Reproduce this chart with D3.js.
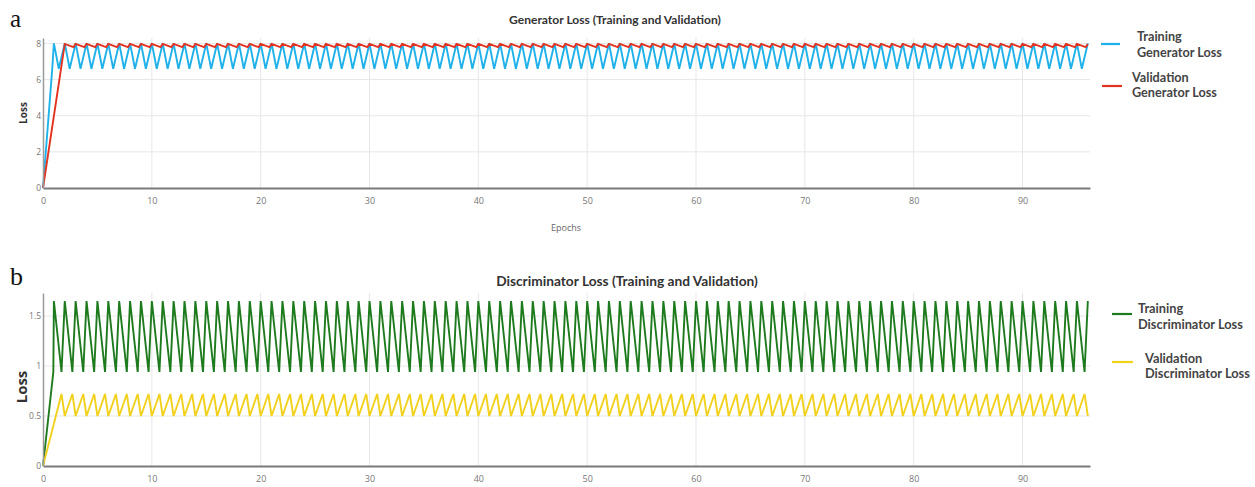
<!DOCTYPE html>
<html>
<head>
<meta charset="utf-8">
<script src="https://cdn.jsdelivr.net/npm/d3@7"></script>
<style>
  body { margin: 0; background: #fff; }
  svg { display: block; }
</style>
</head>
<body>
<svg id="chart" width="1255" height="487"></svg>
<script>
/* global d3 */

// tick values
const epochTicks = [0, 10, 20, 30, 40, 50, 60, 70, 80, 90];
const genTicks = [0, 2, 4, 6, 8];
const discTicks = [0, 0.5, 1, 1.5];

// [epoch, loss]
const genTrain = [[0,0],[0.85,6.6],[1,8],
  [1.45,6.6],[2,8],[2.45,6.6],[3,8],[3.45,6.6],[4,8],[4.45,6.6],[5,8],[5.45,6.6],[6,8],[6.45,6.6],[7,8],[7.45,6.6],[8,8],[8.45,6.6],[9,8],[9.45,6.6],[10,8],
  [10.45,6.6],[11,8],[11.45,6.6],[12,8],[12.45,6.6],[13,8],[13.45,6.6],[14,8],[14.45,6.6],[15,8],[15.45,6.6],[16,8],[16.45,6.6],[17,8],[17.45,6.6],[18,8],[18.45,6.6],[19,8],[19.45,6.6],[20,8],
  [20.45,6.6],[21,8],[21.45,6.6],[22,8],[22.45,6.6],[23,8],[23.45,6.6],[24,8],[24.45,6.6],[25,8],[25.45,6.6],[26,8],[26.45,6.6],[27,8],[27.45,6.6],[28,8],[28.45,6.6],[29,8],[29.45,6.6],[30,8],
  [30.45,6.6],[31,8],[31.45,6.6],[32,8],[32.45,6.6],[33,8],[33.45,6.6],[34,8],[34.45,6.6],[35,8],[35.45,6.6],[36,8],[36.45,6.6],[37,8],[37.45,6.6],[38,8],[38.45,6.6],[39,8],[39.45,6.6],[40,8],
  [40.45,6.6],[41,8],[41.45,6.6],[42,8],[42.45,6.6],[43,8],[43.45,6.6],[44,8],[44.45,6.6],[45,8],[45.45,6.6],[46,8],[46.45,6.6],[47,8],[47.45,6.6],[48,8],[48.45,6.6],[49,8],[49.45,6.6],[50,8],
  [50.45,6.6],[51,8],[51.45,6.6],[52,8],[52.45,6.6],[53,8],[53.45,6.6],[54,8],[54.45,6.6],[55,8],[55.45,6.6],[56,8],[56.45,6.6],[57,8],[57.45,6.6],[58,8],[58.45,6.6],[59,8],[59.45,6.6],[60,8],
  [60.45,6.6],[61,8],[61.45,6.6],[62,8],[62.45,6.6],[63,8],[63.45,6.6],[64,8],[64.45,6.6],[65,8],[65.45,6.6],[66,8],[66.45,6.6],[67,8],[67.45,6.6],[68,8],[68.45,6.6],[69,8],[69.45,6.6],[70,8],
  [70.45,6.6],[71,8],[71.45,6.6],[72,8],[72.45,6.6],[73,8],[73.45,6.6],[74,8],[74.45,6.6],[75,8],[75.45,6.6],[76,8],[76.45,6.6],[77,8],[77.45,6.6],[78,8],[78.45,6.6],[79,8],[79.45,6.6],[80,8],
  [80.45,6.6],[81,8],[81.45,6.6],[82,8],[82.45,6.6],[83,8],[83.45,6.6],[84,8],[84.45,6.6],[85,8],[85.45,6.6],[86,8],[86.45,6.6],[87,8],[87.45,6.6],[88,8],[88.45,6.6],[89,8],[89.45,6.6],[90,8],
  [90.45,6.6],[91,8],[91.45,6.6],[92,8],[92.45,6.6],[93,8],[93.45,6.6],[94,8],[94.45,6.6],[95,8],[95.45,6.6],[96,8]];

const genVal = [[0,0],[2,7.97],
  [2.8,7.8],[3,7.97],[3.8,7.8],[4,7.97],[4.8,7.8],[5,7.97],[5.8,7.8],[6,7.97],[6.8,7.8],[7,7.97],[7.8,7.8],[8,7.97],[8.8,7.8],[9,7.97],[9.8,7.8],[10,7.97],
  [10.8,7.8],[11,7.97],[11.8,7.8],[12,7.97],[12.8,7.8],[13,7.97],[13.8,7.8],[14,7.97],[14.8,7.8],[15,7.97],[15.8,7.8],[16,7.97],[16.8,7.8],[17,7.97],[17.8,7.8],[18,7.97],[18.8,7.8],[19,7.97],[19.8,7.8],[20,7.97],
  [20.8,7.8],[21,7.97],[21.8,7.8],[22,7.97],[22.8,7.8],[23,7.97],[23.8,7.8],[24,7.97],[24.8,7.8],[25,7.97],[25.8,7.8],[26,7.97],[26.8,7.8],[27,7.97],[27.8,7.8],[28,7.97],[28.8,7.8],[29,7.97],[29.8,7.8],[30,7.97],
  [30.8,7.8],[31,7.97],[31.8,7.8],[32,7.97],[32.8,7.8],[33,7.97],[33.8,7.8],[34,7.97],[34.8,7.8],[35,7.97],[35.8,7.8],[36,7.97],[36.8,7.8],[37,7.97],[37.8,7.8],[38,7.97],[38.8,7.8],[39,7.97],[39.8,7.8],[40,7.97],
  [40.8,7.8],[41,7.97],[41.8,7.8],[42,7.97],[42.8,7.8],[43,7.97],[43.8,7.8],[44,7.97],[44.8,7.8],[45,7.97],[45.8,7.8],[46,7.97],[46.8,7.8],[47,7.97],[47.8,7.8],[48,7.97],[48.8,7.8],[49,7.97],[49.8,7.8],[50,7.97],
  [50.8,7.8],[51,7.97],[51.8,7.8],[52,7.97],[52.8,7.8],[53,7.97],[53.8,7.8],[54,7.97],[54.8,7.8],[55,7.97],[55.8,7.8],[56,7.97],[56.8,7.8],[57,7.97],[57.8,7.8],[58,7.97],[58.8,7.8],[59,7.97],[59.8,7.8],[60,7.97],
  [60.8,7.8],[61,7.97],[61.8,7.8],[62,7.97],[62.8,7.8],[63,7.97],[63.8,7.8],[64,7.97],[64.8,7.8],[65,7.97],[65.8,7.8],[66,7.97],[66.8,7.8],[67,7.97],[67.8,7.8],[68,7.97],[68.8,7.8],[69,7.97],[69.8,7.8],[70,7.97],
  [70.8,7.8],[71,7.97],[71.8,7.8],[72,7.97],[72.8,7.8],[73,7.97],[73.8,7.8],[74,7.97],[74.8,7.8],[75,7.97],[75.8,7.8],[76,7.97],[76.8,7.8],[77,7.97],[77.8,7.8],[78,7.97],[78.8,7.8],[79,7.97],[79.8,7.8],[80,7.97],
  [80.8,7.8],[81,7.97],[81.8,7.8],[82,7.97],[82.8,7.8],[83,7.97],[83.8,7.8],[84,7.97],[84.8,7.8],[85,7.97],[85.8,7.8],[86,7.97],[86.8,7.8],[87,7.97],[87.8,7.8],[88,7.97],[88.8,7.8],[89,7.97],[89.8,7.8],[90,7.97],
  [90.8,7.8],[91,7.97],[91.8,7.8],[92,7.97],[92.8,7.8],[93,7.97],[93.8,7.8],[94,7.97],[94.8,7.8],[95,7.97],[95.8,7.8],[96,7.97]];

const discTrain = [[0,0],[0.95,0.94],[1,1.65],
  [1.7,0.94],[2,1.65],[2.7,0.94],[3,1.65],[3.7,0.94],[4,1.65],[4.7,0.94],[5,1.65],[5.7,0.94],[6,1.65],[6.7,0.94],[7,1.65],[7.7,0.94],[8,1.65],[8.7,0.94],[9,1.65],[9.7,0.94],[10,1.65],
  [10.7,0.94],[11,1.65],[11.7,0.94],[12,1.65],[12.7,0.94],[13,1.65],[13.7,0.94],[14,1.65],[14.7,0.94],[15,1.65],[15.7,0.94],[16,1.65],[16.7,0.94],[17,1.65],[17.7,0.94],[18,1.65],[18.7,0.94],[19,1.65],[19.7,0.94],[20,1.65],
  [20.7,0.94],[21,1.65],[21.7,0.94],[22,1.65],[22.7,0.94],[23,1.65],[23.7,0.94],[24,1.65],[24.7,0.94],[25,1.65],[25.7,0.94],[26,1.65],[26.7,0.94],[27,1.65],[27.7,0.94],[28,1.65],[28.7,0.94],[29,1.65],[29.7,0.94],[30,1.65],
  [30.7,0.94],[31,1.65],[31.7,0.94],[32,1.65],[32.7,0.94],[33,1.65],[33.7,0.94],[34,1.65],[34.7,0.94],[35,1.65],[35.7,0.94],[36,1.65],[36.7,0.94],[37,1.65],[37.7,0.94],[38,1.65],[38.7,0.94],[39,1.65],[39.7,0.94],[40,1.65],
  [40.7,0.94],[41,1.65],[41.7,0.94],[42,1.65],[42.7,0.94],[43,1.65],[43.7,0.94],[44,1.65],[44.7,0.94],[45,1.65],[45.7,0.94],[46,1.65],[46.7,0.94],[47,1.65],[47.7,0.94],[48,1.65],[48.7,0.94],[49,1.65],[49.7,0.94],[50,1.65],
  [50.7,0.94],[51,1.65],[51.7,0.94],[52,1.65],[52.7,0.94],[53,1.65],[53.7,0.94],[54,1.65],[54.7,0.94],[55,1.65],[55.7,0.94],[56,1.65],[56.7,0.94],[57,1.65],[57.7,0.94],[58,1.65],[58.7,0.94],[59,1.65],[59.7,0.94],[60,1.65],
  [60.7,0.94],[61,1.65],[61.7,0.94],[62,1.65],[62.7,0.94],[63,1.65],[63.7,0.94],[64,1.65],[64.7,0.94],[65,1.65],[65.7,0.94],[66,1.65],[66.7,0.94],[67,1.65],[67.7,0.94],[68,1.65],[68.7,0.94],[69,1.65],[69.7,0.94],[70,1.65],
  [70.7,0.94],[71,1.65],[71.7,0.94],[72,1.65],[72.7,0.94],[73,1.65],[73.7,0.94],[74,1.65],[74.7,0.94],[75,1.65],[75.7,0.94],[76,1.65],[76.7,0.94],[77,1.65],[77.7,0.94],[78,1.65],[78.7,0.94],[79,1.65],[79.7,0.94],[80,1.65],
  [80.7,0.94],[81,1.65],[81.7,0.94],[82,1.65],[82.7,0.94],[83,1.65],[83.7,0.94],[84,1.65],[84.7,0.94],[85,1.65],[85.7,0.94],[86,1.65],[86.7,0.94],[87,1.65],[87.7,0.94],[88,1.65],[88.7,0.94],[89,1.65],[89.7,0.94],[90,1.65],
  [90.7,0.94],[91,1.65],[91.7,0.94],[92,1.65],[92.7,0.94],[93,1.65],[93.7,0.94],[94,1.65],[94.7,0.94],[95,1.65],[95.7,0.94],[96,1.65]];

const discVal = [[0,0],[1.7,0.72],[2,0.5],
  [2.7,0.72],[3,0.5],[3.7,0.72],[4,0.5],[4.7,0.72],[5,0.5],[5.7,0.72],[6,0.5],[6.7,0.72],[7,0.5],[7.7,0.72],[8,0.5],[8.7,0.72],[9,0.5],[9.7,0.72],[10,0.5],
  [10.7,0.72],[11,0.5],[11.7,0.72],[12,0.5],[12.7,0.72],[13,0.5],[13.7,0.72],[14,0.5],[14.7,0.72],[15,0.5],[15.7,0.72],[16,0.5],[16.7,0.72],[17,0.5],[17.7,0.72],[18,0.5],[18.7,0.72],[19,0.5],[19.7,0.72],[20,0.5],
  [20.7,0.72],[21,0.5],[21.7,0.72],[22,0.5],[22.7,0.72],[23,0.5],[23.7,0.72],[24,0.5],[24.7,0.72],[25,0.5],[25.7,0.72],[26,0.5],[26.7,0.72],[27,0.5],[27.7,0.72],[28,0.5],[28.7,0.72],[29,0.5],[29.7,0.72],[30,0.5],
  [30.7,0.72],[31,0.5],[31.7,0.72],[32,0.5],[32.7,0.72],[33,0.5],[33.7,0.72],[34,0.5],[34.7,0.72],[35,0.5],[35.7,0.72],[36,0.5],[36.7,0.72],[37,0.5],[37.7,0.72],[38,0.5],[38.7,0.72],[39,0.5],[39.7,0.72],[40,0.5],
  [40.7,0.72],[41,0.5],[41.7,0.72],[42,0.5],[42.7,0.72],[43,0.5],[43.7,0.72],[44,0.5],[44.7,0.72],[45,0.5],[45.7,0.72],[46,0.5],[46.7,0.72],[47,0.5],[47.7,0.72],[48,0.5],[48.7,0.72],[49,0.5],[49.7,0.72],[50,0.5],
  [50.7,0.72],[51,0.5],[51.7,0.72],[52,0.5],[52.7,0.72],[53,0.5],[53.7,0.72],[54,0.5],[54.7,0.72],[55,0.5],[55.7,0.72],[56,0.5],[56.7,0.72],[57,0.5],[57.7,0.72],[58,0.5],[58.7,0.72],[59,0.5],[59.7,0.72],[60,0.5],
  [60.7,0.72],[61,0.5],[61.7,0.72],[62,0.5],[62.7,0.72],[63,0.5],[63.7,0.72],[64,0.5],[64.7,0.72],[65,0.5],[65.7,0.72],[66,0.5],[66.7,0.72],[67,0.5],[67.7,0.72],[68,0.5],[68.7,0.72],[69,0.5],[69.7,0.72],[70,0.5],
  [70.7,0.72],[71,0.5],[71.7,0.72],[72,0.5],[72.7,0.72],[73,0.5],[73.7,0.72],[74,0.5],[74.7,0.72],[75,0.5],[75.7,0.72],[76,0.5],[76.7,0.72],[77,0.5],[77.7,0.72],[78,0.5],[78.7,0.72],[79,0.5],[79.7,0.72],[80,0.5],
  [80.7,0.72],[81,0.5],[81.7,0.72],[82,0.5],[82.7,0.72],[83,0.5],[83.7,0.72],[84,0.5],[84.7,0.72],[85,0.5],[85.7,0.72],[86,0.5],[86.7,0.72],[87,0.5],[87.7,0.72],[88,0.5],[88.7,0.72],[89,0.5],[89.7,0.72],[90,0.5],
  [90.7,0.72],[91,0.5],[91.7,0.72],[92,0.5],[92.7,0.72],[93,0.5],[93.7,0.72],[94,0.5],[94.7,0.72],[95,0.5],[95.7,0.72],[96,0.5]];

const svg = d3.select("#chart");

let x = d3.scaleLinear().domain([0, 96.2]).range([43, 1090]);

let panels = [
  {
    letter: "a", letterY: 27, letterSize: 25,
    title: "Generator Loss (Training and Validation)", titleX: 615, titleY: 24, titleW: 212,
    top: 38, bottom: 188, domain: [0, 8.3], ticks: genTicks,
    yLabelX: 27, yLabelY: 113, yLabelSize: 10,
    xLabel: "Epochs",
    series: [
      { data: genTrain, color: "#1fb1e9" },
      { data: genVal, color: "#e3321f" }
    ],
    legend: [
      { lines: ["Training", "Generator Loss"], color: "#1fb1e9", lx: [1101, 1120], ly: 44, tx: 1137, ty: [41, 57] },
      { lines: ["Validation", "Generator Loss"], color: "#e3321f", lx: [1102, 1122], ly: 86, tx: 1132, ty: [82, 97] }
    ],
    legendW: 85
  },
  {
    letter: "b", letterY: 285, letterSize: 26,
    title: "Discriminator Loss (Training and Validation)", titleX: 627, titleY: 286, titleW: 262,
    top: 293, bottom: 466, domain: [0, 1.73], ticks: discTicks,
    yLabelX: 27, yLabelY: 387, yLabelSize: 15,
    xLabel: null,
    series: [
      { data: discTrain, color: "#1d7a1d" },
      { data: discVal, color: "#f2d11c" }
    ],
    legend: [
      { lines: ["Training", "Discriminator Loss"], color: "#1d7a1d", lx: [1112, 1132], ly: 314, tx: 1138, ty: [313, 329] },
      { lines: ["Validation", "Discriminator Loss"], color: "#f2d11c", lx: [1112, 1133], ly: 362, tx: 1145, ty: [363, 378] }
    ],
    legendW: 105
  }
];

let fitWidth = (sel, target) => {
  let w = sel.node().getComputedTextLength();
  let fs = parseFloat(sel.attr("font-size"));
  return fs * target / w;
}

panels.forEach(p => {
  let y = d3.scaleLinear().domain(p.domain).range([p.bottom, p.top]);
  let g = svg.append("g");

  // panel letter
  g.append("text")
    .attr("x", 10).attr("y", p.letterY)
    .attr("font-family", "Liberation Serif, serif")
    .attr("font-size", p.letterSize)
    .attr("fill", "#111")
    .text(p.letter);

  // grid
  g.append("g").selectAll("line")
    .data(epochTicks.filter(t => t > 0))
    .enter().append("line")
    .attr("x1", d => x(d)).attr("x2", d => x(d))
    .attr("y1", p.top).attr("y2", p.bottom)
    .attr("stroke", "#e7e7e7").attr("stroke-width", 1);
  g.append("g").selectAll("line")
    .data(p.ticks.filter(t => t > 0))
    .enter().append("line")
    .attr("x1", x.range()[0]).attr("x2", x.range()[1])
    .attr("y1", d => y(d)).attr("y2", d => y(d))
    .attr("stroke", "#e7e7e7").attr("stroke-width", 1);

  // series
  let line = d3.line().x(d => x(d[0])).y(d => y(d[1]));
  p.series.forEach(s => {
    g.append("path")
      .datum(s.data)
      .attr("d", line)
      .attr("fill", "none")
      .attr("stroke", s.color)
      .attr("stroke-width", 1.9)
      .attr("stroke-linejoin", "miter");
  });

  // axes
  let xAxis = g.append("g")
    .attr("transform", `translate(0,${p.bottom})`)
    .call(d3.axisBottom(x).tickValues(epochTicks).tickSize(0).tickPadding(10));
  xAxis.select(".domain").attr("stroke", "#7a7a7a").attr("stroke-width", 2);
  xAxis.selectAll("text").attr("fill", "#777").attr("font-size", 9).attr("font-family", "Open Sans, sans-serif");

  let yAxis = g.append("g")
    .attr("transform", `translate(${x.range()[0]},0)`)
    .call(d3.axisLeft(y).tickValues(p.ticks).tickSize(0).tickPadding(2).tickFormat(d3.format("")));
  yAxis.select(".domain").attr("stroke", "#9a9a9a").attr("stroke-width", 1.5);
  yAxis.selectAll("text").attr("fill", "#777").attr("font-size", 8.5).attr("font-family", "Open Sans, sans-serif");

  // title
  let title = g.append("text")
    .attr("x", p.titleX).attr("y", p.titleY)
    .attr("text-anchor", "middle")
    .attr("font-family", "Lato, sans-serif")
    .attr("font-weight", "bold")
    .attr("font-size", 12)
    .attr("fill", "#333")
    .text(p.title);
  title.attr("font-size", fitWidth(title, p.titleW));

  // y label
  g.append("text")
    .attr("transform", `translate(${p.yLabelX},${p.yLabelY}) rotate(-90)`)
    .attr("text-anchor", "middle")
    .attr("font-family", "Open Sans, sans-serif")
    .attr("font-weight", "bold")
    .attr("font-size", p.yLabelSize)
    .attr("fill", "#333")
    .text("Loss");

  if (p.xLabel) {
    g.append("text")
      .attr("x", 566).attr("y", 231)
      .attr("text-anchor", "middle")
      .attr("font-family", "Open Sans, sans-serif")
      .attr("font-size", 9)
      .attr("fill", "#666")
      .text(p.xLabel);
  }

  // legend
  let legendSize = null;
  p.legend.forEach(l => {
    g.append("line")
      .attr("x1", l.lx[0]).attr("x2", l.lx[1])
      .attr("y1", l.ly).attr("y2", l.ly)
      .attr("stroke", l.color).attr("stroke-width", 2.2);
    l.lines.forEach((t, i) => {
      let txt = g.append("text")
        .attr("x", l.tx).attr("y", l.ty[i])
        .attr("font-family", "Lato, sans-serif")
        .attr("font-weight", "bold")
        .attr("font-size", 12)
        .attr("fill", "#444")
        .text(t);
      if (legendSize === null && i === 1) legendSize = fitWidth(txt, p.legendW);
    });
  });
  g.selectAll("text").filter(function() { return this.getAttribute("fill") === "#444"; })
    .attr("font-size", legendSize);
});
</script>
</body>
</html>
